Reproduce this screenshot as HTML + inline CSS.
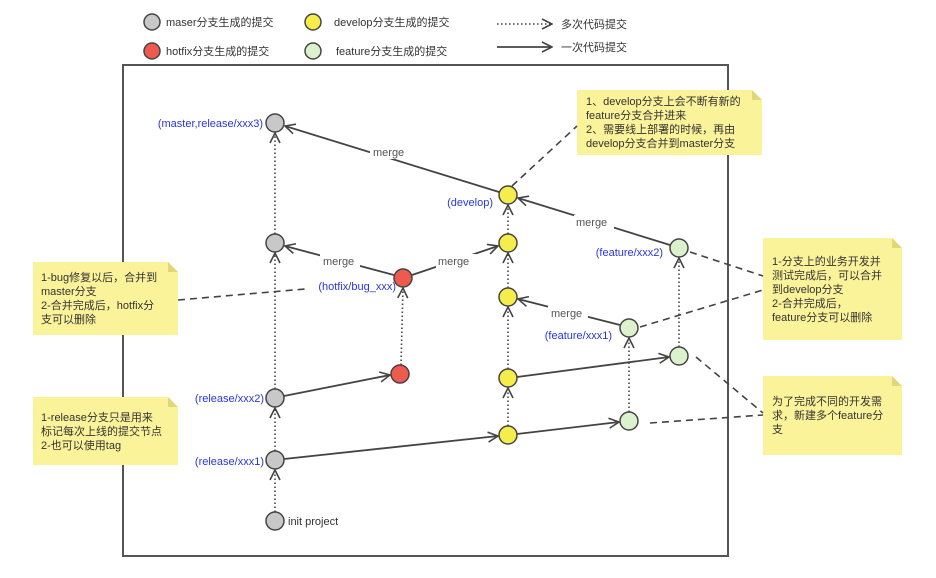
<!DOCTYPE html>
<html><head><meta charset="utf-8"><style>
html,body{margin:0;padding:0;background:#fff}
svg{display:block;font-family:"Liberation Sans","Noto Sans CJK SC",sans-serif}
.n{stroke:#444;stroke-width:1.5}
.g{fill:#c8c8c8}.y{fill:#f5ee4a}.r{fill:#ef5a4e}.f{fill:#dcf2cc}
.s{stroke:#444;stroke-width:1.8;fill:none}
.d{stroke:#444;stroke-width:1.6;fill:none;stroke-dasharray:1.5 2.5}
.da{stroke:#444;stroke-width:1.6;fill:none;stroke-dasharray:7 5}
.b{fill:#2a35e0;font-size:11px}
.m{fill:#555;font-size:11px}
.t{fill:#333;font-size:11px}
.note{fill:#fbf39a}
</style></head><body>
<svg width="936" height="578" viewBox="0 0 936 578">
<defs>
<marker id="a" viewBox="0 0 12 12" refX="11" refY="6" markerWidth="12" markerHeight="12" markerUnits="userSpaceOnUse" orient="auto">
<polyline points="1,1 11,6 1,11" fill="none" stroke="#444" stroke-width="1.6"/></marker>
</defs>
<circle cx="152" cy="22" r="8" class="n g"/><text x="166" y="26" class="t">maser分支生成的提交</text>
<circle cx="152" cy="51" r="8" class="n r"/><text x="166" y="55" class="t">hotfix分支生成的提交</text>
<circle cx="313" cy="22" r="8" class="n y"/><text x="334" y="26" class="t">develop分支生成的提交</text>
<circle cx="313" cy="51" r="8" class="n f"/><text x="336" y="55" class="t">feature分支生成的提交</text>
<line x1="497" y1="24" x2="552" y2="24" class="d" marker-end="url(#a)"/><text x="561" y="28" class="t">多次代码提交</text>
<line x1="497" y1="47" x2="552" y2="47" class="s" marker-end="url(#a)"/><text x="561" y="51" class="t">一次代码提交</text>
<rect x="123" y="65" width="605" height="491" fill="none" stroke="#555" stroke-width="2"/>
<path d="M577 90 H752 L762 100 V155 H577Z" class="note"/><path d="M752 90 V100 H762Z" fill="#e0d77a"/>
<text class="t"><tspan x="586" y="105">1、develop分支上会不断有新的</tspan><tspan x="586" y="119">feature分支合并进来</tspan><tspan x="586" y="133">2、需要线上部署的时候，再由</tspan><tspan x="586" y="147">develop分支合并到master分支</tspan></text>
<path d="M33 262 H168 L178 272 V335 H33Z" class="note"/><path d="M168 262 V272 H178Z" fill="#e0d77a"/>
<text class="t"><tspan x="41" y="281">1-bug修复以后，合并到</tspan><tspan x="41" y="295">master分支</tspan><tspan x="41" y="309">2-合并完成后，hotfix分</tspan><tspan x="41" y="323">支可以删除</tspan></text>
<path d="M33 397 H168 L178 407 V465 H33Z" class="note"/><path d="M168 397 V407 H178Z" fill="#e0d77a"/>
<text class="t"><tspan x="41" y="421">1-release分支只是用来</tspan><tspan x="41" y="435">标记每次上线的提交节点</tspan><tspan x="41" y="449">2-也可以使用tag</tspan></text>
<path d="M763 238 H892 L902 248 V340 H763Z" class="note"/><path d="M892 238 V248 H902Z" fill="#e0d77a"/>
<text class="t"><tspan x="772" y="265">1-分支上的业务开发并</tspan><tspan x="772" y="279">测试完成后，可以合并</tspan><tspan x="772" y="293">到develop分支</tspan><tspan x="772" y="307">2-合并完成后，</tspan><tspan x="772" y="321">feature分支可以删除</tspan></text>
<path d="M763 376 H892 L902 386 V455 H763Z" class="note"/><path d="M892 376 V386 H902Z" fill="#e0d77a"/>
<text class="t"><tspan x="772" y="405">为了完成不同的开发需</tspan><tspan x="772" y="419">求，新建多个feature分</tspan><tspan x="772" y="433">支</tspan></text>
<line x1="512" y1="186" x2="577" y2="126" class="da"/>
<line x1="178" y1="300" x2="305" y2="289" class="da"/>
<line x1="690" y1="252" x2="763" y2="276" class="da"/>
<line x1="640" y1="327" x2="763" y2="290" class="da"/>
<line x1="696" y1="357" x2="763" y2="413" class="da"/>
<line x1="650" y1="423" x2="763" y2="415" class="da"/>
<line x1="275" y1="512" x2="275" y2="470" class="d" marker-end="url(#a)"/>
<line x1="275" y1="451" x2="275" y2="408" class="d" marker-end="url(#a)"/>
<line x1="275" y1="389" x2="275" y2="253" class="d" marker-end="url(#a)"/>
<line x1="275" y1="234" x2="275" y2="133" class="d" marker-end="url(#a)"/>
<line x1="401" y1="365" x2="403" y2="288" class="d" marker-end="url(#a)"/>
<line x1="508" y1="426" x2="508" y2="388" class="d" marker-end="url(#a)"/>
<line x1="508" y1="369" x2="508" y2="307" class="d" marker-end="url(#a)"/>
<line x1="508" y1="288" x2="508" y2="253" class="d" marker-end="url(#a)"/>
<line x1="508" y1="234" x2="508" y2="205" class="d" marker-end="url(#a)"/>
<line x1="629" y1="412" x2="629" y2="338" class="d" marker-end="url(#a)"/>
<line x1="679" y1="347" x2="679" y2="258" class="d" marker-end="url(#a)"/>
<line x1="284" y1="459" x2="498" y2="436" class="s" marker-end="url(#a)"/>
<line x1="517" y1="434" x2="619" y2="422" class="s" marker-end="url(#a)"/>
<line x1="284" y1="396" x2="390" y2="375" class="s" marker-end="url(#a)"/>
<line x1="517" y1="377" x2="669" y2="357" class="s" marker-end="url(#a)"/>
<line x1="394" y1="275" x2="285" y2="246" class="s" marker-end="url(#a)"/>
<line x1="412" y1="275" x2="498" y2="246" class="s" marker-end="url(#a)"/>
<line x1="620" y1="325" x2="518" y2="299" class="s" marker-end="url(#a)"/>
<line x1="670" y1="245" x2="518" y2="198" class="s" marker-end="url(#a)"/>
<line x1="499" y1="192" x2="285" y2="126" class="s" marker-end="url(#a)"/>
<rect x="370" y="145" width="40" height="14" fill="#fff"/><text x="373" y="156" class="m">merge</text>
<rect x="320" y="254" width="40" height="14" fill="#fff"/><text x="323" y="265" class="m">merge</text>
<rect x="436" y="254" width="40" height="14" fill="#fff"/><text x="438" y="265" class="m">merge</text>
<rect x="548" y="306" width="40" height="14" fill="#fff"/><text x="551" y="317" class="m">merge</text>
<rect x="574" y="215" width="40" height="14" fill="#fff"/><text x="576" y="226" class="m">merge</text>
<circle cx="275" cy="123" r="9" class="n g"/><circle cx="275" cy="243" r="9" class="n g"/>
<circle cx="275" cy="398" r="9" class="n g"/><circle cx="275" cy="460" r="9" class="n g"/>
<circle cx="275" cy="521" r="9" class="n g"/>
<circle cx="403" cy="278" r="9" class="n r"/><circle cx="400" cy="374" r="9" class="n r"/>
<circle cx="508" cy="195" r="9" class="n y"/><circle cx="508" cy="243" r="9" class="n y"/>
<circle cx="508" cy="297" r="9" class="n y"/><circle cx="508" cy="378" r="9" class="n y"/>
<circle cx="508" cy="435" r="9" class="n y"/>
<circle cx="629" cy="328" r="9" class="n f"/><circle cx="679" cy="248" r="9" class="n f"/>
<circle cx="679" cy="356" r="9" class="n f"/><circle cx="629" cy="421" r="9" class="n f"/>
<text x="263" y="127" class="b" text-anchor="end">(master,release/xxx3)</text>
<text x="493" y="206" class="b" text-anchor="end">(develop)</text>
<text x="663" y="256" class="b" text-anchor="end">(feature/xxx2)</text>
<text x="396" y="290" class="b" text-anchor="end">(hotfix/bug_xxx)</text>
<text x="612" y="339" class="b" text-anchor="end">(feature/xxx1)</text>
<text x="264" y="402" class="b" text-anchor="end">(release/xxx2)</text>
<text x="264" y="465" class="b" text-anchor="end">(release/xxx1)</text>
<text x="288" y="525" class="t">init project</text>
</svg>
</body></html>
